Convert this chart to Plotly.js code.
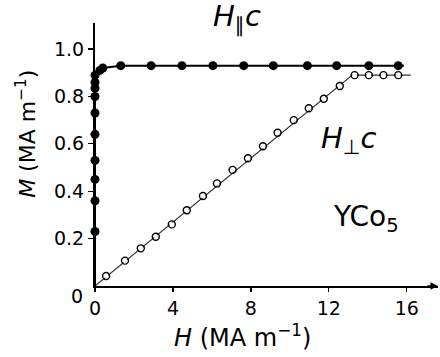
<!DOCTYPE html>
<html>
<head>
<meta charset="utf-8">
<script src="https://cdn.plot.ly/plotly-3.0.1.min.js"></script>
<style>html,body{margin:0;padding:0;background:#fff;}#chart{width:440px;height:357px;}</style>
</head>
<body>
<div id="chart"></div>
<script>
// H parallel to c (filled circles)
var parH = [0, 0, 0, 0, 0, 0, 0, 0, 0, 0, 0.25, 0.4, 1.32, 2.88, 4.46, 6.05, 7.63, 9.15, 10.9, 12.4, 14.05, 15.56];
var parM = [0.23, 0.36, 0.45, 0.53, 0.64, 0.73, 0.80, 0.835, 0.86, 0.89, 0.91, 0.92, 0.93, 0.93, 0.93, 0.93, 0.93, 0.93, 0.93, 0.93, 0.93, 0.93];
// H perpendicular to c (open circles)
var perpH = [0.57, 1.54, 2.35, 3.12, 3.94, 4.71, 5.54, 6.26, 7.06, 7.85, 8.62, 9.37, 10.2, 10.97, 11.74, 12.56, 13.32, 14.05, 14.8, 15.56];
var perpM = [0.042, 0.107, 0.159, 0.208, 0.26, 0.32, 0.38, 0.433, 0.49, 0.539, 0.59, 0.647, 0.70, 0.75, 0.79, 0.844, 0.89, 0.89, 0.89, 0.89];
// guide lines through the data
var parLineH = [0, 0, 0.25, 0.4, 1.32, 15.85];
var parLineM = [0, 0.89, 0.91, 0.92, 0.93, 0.93];
var perpLineH = [0, 13.2, 16.2];
var perpLineM = [0, 0.89, 0.89];
var xTicks = [0, 4, 8, 12, 16];
var yTicks = [0.2, 0.4, 0.6, 0.8, 1.0];
var yTickText = ['0.2', '0.4', '0.6', '0.8', '1.0'];

var FONT = 'DejaVu Sans, Liberation Sans, Arial, sans-serif';

var traces = [
  {x: perpLineH, y: perpLineM, mode: 'lines', line: {color: '#333', width: 1.2}, hoverinfo: 'skip', cliponaxis: false},
  {x: parLineH, y: parLineM, mode: 'lines', line: {color: '#000', width: 2}, hoverinfo: 'skip', cliponaxis: false},
  {x: perpH, y: perpM, mode: 'markers', marker: {symbol: 'circle-open', size: 7, color: '#000', line: {width: 1.4, color: '#000'}}, cliponaxis: false},
  {x: perpH, y: perpM, mode: 'markers', marker: {symbol: 'circle', size: 4.5, color: '#fff'}, cliponaxis: false},
  {x: parH, y: parM, mode: 'markers', marker: {symbol: 'circle', size: 9, color: '#000'}, cliponaxis: false}
];

var layout = {
  width: 440, height: 357,
  margin: {l: 95, r: 2, t: 23, b: 71},
  paper_bgcolor: '#fff', plot_bgcolor: '#fff',
  showlegend: false,
  font: {family: FONT, size: 19, color: '#000'},
  xaxis: {
    range: [0, 17.6], tickvals: xTicks, ticks: 'outside', ticklen: 4, tickwidth: 1.2, tickcolor: '#000',
    showline: true, linecolor: '#000', linewidth: 2, showgrid: false, zeroline: false,
    tickfont: {family: FONT, size: 19, color: '#000'}
  },
  yaxis: {
    range: [0, 1.11], tickvals: yTicks, ticktext: yTickText, ticks: 'outside', ticklen: 5, tickwidth: 1.2, tickcolor: '#000',
    showline: true, linecolor: '#000', linewidth: 2, showgrid: false, zeroline: false,
    tickfont: {family: FONT, size: 19, color: '#000'}
  },
  annotations: [
    {xref: 'paper', yref: 'paper', x: 0.4286, y: -0.19, xanchor: 'center', yanchor: 'middle', showarrow: false,
     text: '<i>H</i> (MA m<sup>−1</sup>)', font: {family: FONT, size: 24, color: '#000'}},
    {xref: 'paper', yref: 'paper', x: -0.2, y: 0.58, xanchor: 'center', yanchor: 'middle', showarrow: false, textangle: -90,
     text: '<i>M</i> (MA m<sup>−1</sup>)', font: {family: FONT, size: 22, color: '#000'}},
    {xref: 'paper', yref: 'y', x: 0, y: 0, xanchor: 'right', yanchor: 'middle', xshift: -10, yshift: -10, showarrow: false,
     text: '0', font: {family: FONT, size: 19, color: '#000'}},
    {xref: 'x', yref: 'y', x: 5.95, y: 1.1, yshift: 7, xanchor: 'left', yanchor: 'middle', showarrow: false,
     text: '<i>H</i><sub>∥</sub><i>c</i>', font: {family: FONT, size: 29, color: '#000'}},
    {xref: 'x', yref: 'y', x: 11.5, y: 0.615, xanchor: 'left', yanchor: 'middle', showarrow: false,
     text: '<i>H</i><sub>⊥</sub><i>c</i>', font: {family: FONT, size: 29, color: '#000'}},
    {xref: 'x', yref: 'y', x: 12.1, y: 0.283, xanchor: 'left', yanchor: 'middle', showarrow: false,
     text: 'YCo<sub>5</sub>', font: {family: FONT, size: 28, color: '#000'}},
    {xref: 'x', yref: 'y', x: 17.6, y: 0, ax: -12, ay: 0, text: '', showarrow: true, arrowhead: 2, arrowsize: 1, arrowwidth: 1.5, arrowcolor: '#000'}
  ]
};

Plotly.newPlot('chart', traces, layout, {displayModeBar: false, staticPlot: true});
</script>
</body>
</html>
